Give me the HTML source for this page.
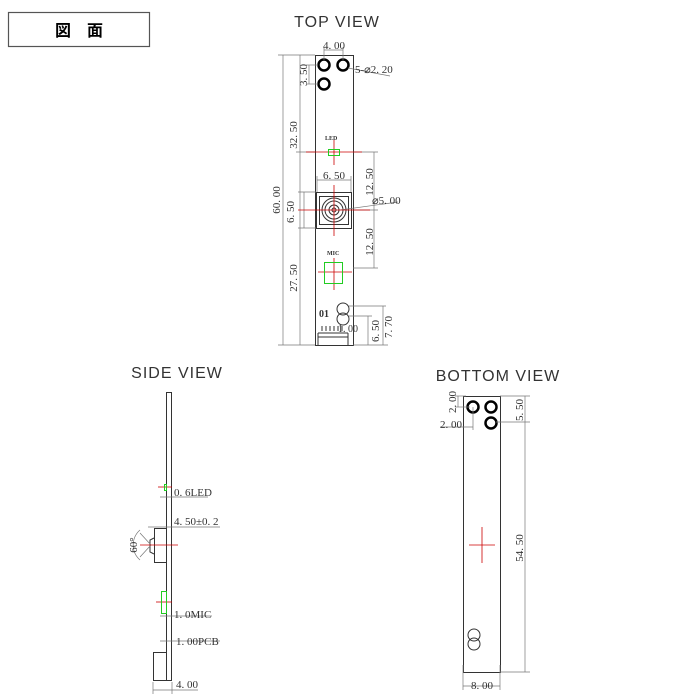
<!DOCTYPE html>
<html><head><meta charset="utf-8"><style>
html,body{margin:0;padding:0;background:#fff;width:700px;height:700px;overflow:hidden}
svg{display:block}
</style></head><body>
<svg width="700" height="700" viewBox="0 0 700 700" xmlns="http://www.w3.org/2000/svg" font-family="Liberation Serif, serif">
<rect x="8.5" y="12.5" width="141" height="34" fill="#fff" stroke="#555" stroke-width="1.2"/>
<text x="79" y="36" font-size="16" font-weight="bold" text-anchor="middle" font-family="Liberation Sans, Noto Sans CJK JP, sans-serif">図　面</text>

<g font-family="Liberation Sans, sans-serif" font-size="16" fill="#333" letter-spacing="1">
<text x="337" y="27" text-anchor="middle">TOP VIEW</text>
<text x="177" y="378" text-anchor="middle">SIDE VIEW</text>
<text x="498" y="381" text-anchor="middle">BOTTOM  VIEW</text>
</g>

<!-- TOP VIEW -->
<g stroke="#333" fill="none" stroke-width="1">
<rect x="315.5" y="55.5" width="38" height="290"/>
<circle cx="324" cy="65" r="5.5" stroke="#000" stroke-width="2.5"/>
<circle cx="343" cy="65" r="5.5" stroke="#000" stroke-width="2.5"/>
<circle cx="324" cy="84" r="5.5" stroke="#000" stroke-width="2.5"/>
<rect x="316.5" y="192.5" width="35" height="36"/>
<rect x="319.5" y="196.5" width="29" height="28"/>
<circle cx="334" cy="210" r="12"/>
<circle cx="334" cy="210" r="9"/>
<circle cx="334" cy="210" r="5"/>
<circle cx="334" cy="210" r="2"/>
<ellipse cx="343" cy="309" rx="6" ry="6"/>
<ellipse cx="343" cy="319" rx="6" ry="6"/>
<line x1="318" y1="333" x2="318" y2="345"/>
<line x1="348" y1="333" x2="348" y2="345"/>
<line x1="318" y1="333" x2="348" y2="333"/>
<line x1="318" y1="337" x2="348" y2="337"/>
<path d="M322,326v5M326,326v5M330,326v5M334,326v5M338,326v5M342,326v5" />
</g>
<g stroke="#777" stroke-width="0.7" fill="none">
<line x1="283" y1="55" x2="283" y2="345"/>
<line x1="278" y1="55" x2="315" y2="55"/>
<line x1="278" y1="345" x2="315" y2="345"/>
<line x1="300" y1="55" x2="300" y2="345"/>
<line x1="296" y1="152" x2="315" y2="152"/>
<line x1="309" y1="65" x2="309" y2="84"/>
<line x1="306" y1="65" x2="318" y2="65"/>
<line x1="306" y1="84" x2="318" y2="84"/>
<line x1="324" y1="50" x2="343" y2="50"/>
<line x1="324" y1="47" x2="324" y2="60"/>
<line x1="343" y1="47" x2="343" y2="60"/>
<line x1="348" y1="68" x2="390" y2="76"/>
<line x1="317" y1="180" x2="351" y2="180"/>
<line x1="317" y1="176" x2="317" y2="192"/>
<line x1="351" y1="176" x2="351" y2="192"/>
<line x1="304" y1="192" x2="304" y2="228"/>
<line x1="298" y1="192" x2="316" y2="192"/>
<line x1="298" y1="228" x2="316" y2="228"/>
<line x1="374" y1="152" x2="374" y2="268"/>
<line x1="353" y1="152" x2="378" y2="152"/>
<line x1="353" y1="210" x2="378" y2="210"/>
<line x1="353" y1="268" x2="378" y2="268"/>
<line x1="340" y1="210" x2="398" y2="202"/>
<line x1="349" y1="306" x2="386" y2="306"/>
<line x1="349" y1="316" x2="372" y2="316"/>
<line x1="368" y1="316" x2="368" y2="345"/>
<line x1="383" y1="306" x2="383" y2="345"/>
<line x1="353" y1="345" x2="388" y2="345"/>
</g>
<g stroke="#c00" stroke-width="0.8">
<line x1="306" y1="152" x2="362" y2="152"/><line x1="334" y1="140" x2="334" y2="165"/>
<line x1="298" y1="210" x2="370" y2="210"/><line x1="334" y1="185" x2="334" y2="236"/>
<line x1="318" y1="272" x2="352" y2="272"/><line x1="334" y1="258" x2="334" y2="290"/>
</g>
<g stroke="#2c2" fill="none" stroke-width="1">
<rect x="328.5" y="149.5" width="11" height="6"/>
<rect x="324.5" y="262.5" width="18" height="21"/>
</g>
<g font-size="11" fill="#333">
<text x="334" y="49" text-anchor="middle">4. 00</text>
<text x="355" y="73">5-⌀2. 20</text>
<text x="334" y="179" text-anchor="middle">6. 50</text>
<text x="372" y="204">⌀5. 00</text>
<text x="325" y="140" font-size="6" font-weight="bold">LED</text>
<text x="327" y="255" font-size="6" font-weight="bold">MIC</text>
<text x="319" y="317" font-size="10" font-weight="bold">01</text>
<text x="338" y="332" font-size="10">1. 00</text>
<text transform="translate(280,200) rotate(-90)" text-anchor="middle">60. 00</text>
<text transform="translate(297,135) rotate(-90)" text-anchor="middle">32. 50</text>
<text transform="translate(297,278) rotate(-90)" text-anchor="middle">27. 50</text>
<text transform="translate(307,75) rotate(-90)" text-anchor="middle">3. 50</text>
<text transform="translate(294,212) rotate(-90)" text-anchor="middle">6. 50</text>
<text transform="translate(373,182) rotate(-90)" text-anchor="middle">12. 50</text>
<text transform="translate(373,242) rotate(-90)" text-anchor="middle">12. 50</text>
<text transform="translate(379,331) rotate(-90)" text-anchor="middle">6. 50</text>
<text transform="translate(392,327) rotate(-90)" text-anchor="middle">7. 70</text>
</g>

<!-- SIDE VIEW -->
<g stroke="#333" fill="none" stroke-width="1">
<rect x="166.5" y="392.5" width="5" height="288"/>
<rect x="154.5" y="528.5" width="12" height="34"/>
<path d="M154,538 L150,540 L150,552 L154,554"/>
<rect x="153.5" y="652.5" width="13" height="28"/>
</g>
<g stroke="#777" stroke-width="0.7" fill="none">
<line x1="160" y1="497" x2="208" y2="497"/>
<line x1="148" y1="527" x2="220" y2="527"/>
<line x1="160" y1="616" x2="212" y2="616"/>
<line x1="160" y1="641" x2="220" y2="641"/>
<line x1="153" y1="690" x2="198" y2="690"/>
<line x1="153" y1="682" x2="153" y2="694"/>
<line x1="172" y1="682" x2="172" y2="694"/>
<path d="M140,530 A20,20 0 0 0 140,560"/>
<line x1="151" y1="545" x2="140" y2="533"/>
<line x1="151" y1="545" x2="140" y2="557"/>
</g>
<g stroke="#c00" stroke-width="0.8">
<line x1="140" y1="545" x2="178" y2="545"/>
<line x1="158" y1="487" x2="172" y2="487"/>
<line x1="156" y1="602" x2="172" y2="602"/>
</g>
<g stroke="#2c2" fill="none" stroke-width="1">
<rect x="164.5" y="484.5" width="2" height="6"/>
<rect x="161.5" y="591.5" width="5" height="22"/>
</g>
<g font-size="11" fill="#333">
<text x="174" y="496">0. 6LED</text>
<text x="174" y="525">4. 50±0. 2</text>
<text x="174" y="618">1. 0MIC</text>
<text x="176" y="645">1. 00PCB</text>
<text x="176" y="688">4. 00</text>
<text transform="translate(137,545) rotate(-90)" text-anchor="middle">60°</text>
</g>

<!-- BOTTOM VIEW -->
<g stroke="#333" fill="none" stroke-width="1">
<rect x="463.5" y="396.5" width="37" height="276"/>
<circle cx="473" cy="407" r="5.5" stroke="#000" stroke-width="2.5"/>
<circle cx="491" cy="407" r="5.5" stroke="#000" stroke-width="2.5"/>
<circle cx="491" cy="423" r="5.5" stroke="#000" stroke-width="2.5"/>
<ellipse cx="474" cy="635" rx="6" ry="6"/>
<ellipse cx="474" cy="644" rx="6" ry="6"/>
</g>
<g stroke="#777" stroke-width="0.7" fill="none">
<line x1="455" y1="396" x2="466" y2="396"/>
<line x1="455" y1="407" x2="470" y2="407"/>
<line x1="458" y1="396" x2="458" y2="407"/>
<line x1="440" y1="427" x2="473" y2="427"/>
<line x1="473" y1="407" x2="473" y2="430"/>
<line x1="500" y1="396" x2="530" y2="396"/>
<line x1="496" y1="422" x2="530" y2="422"/>
<line x1="500" y1="672" x2="530" y2="672"/>
<line x1="525" y1="396" x2="525" y2="672"/>
<line x1="463" y1="665" x2="463" y2="690"/>
<line x1="500" y1="665" x2="500" y2="690"/>
<line x1="463" y1="686" x2="500" y2="686"/>
</g>
<g stroke="#c00" stroke-width="0.8">
<line x1="469" y1="545" x2="495" y2="545"/>
<line x1="482" y1="527" x2="482" y2="563"/>
</g>
<g font-size="11" fill="#333">
<text x="440" y="428">2. 00</text>
<text transform="translate(456,402) rotate(-90)" text-anchor="middle">2. 00</text>
<text transform="translate(523,410) rotate(-90)" text-anchor="middle">5. 50</text>
<text transform="translate(523,548) rotate(-90)" text-anchor="middle">54. 50</text>
<text x="482" y="689" text-anchor="middle">8. 00</text>
</g>
</svg>
</body></html>
